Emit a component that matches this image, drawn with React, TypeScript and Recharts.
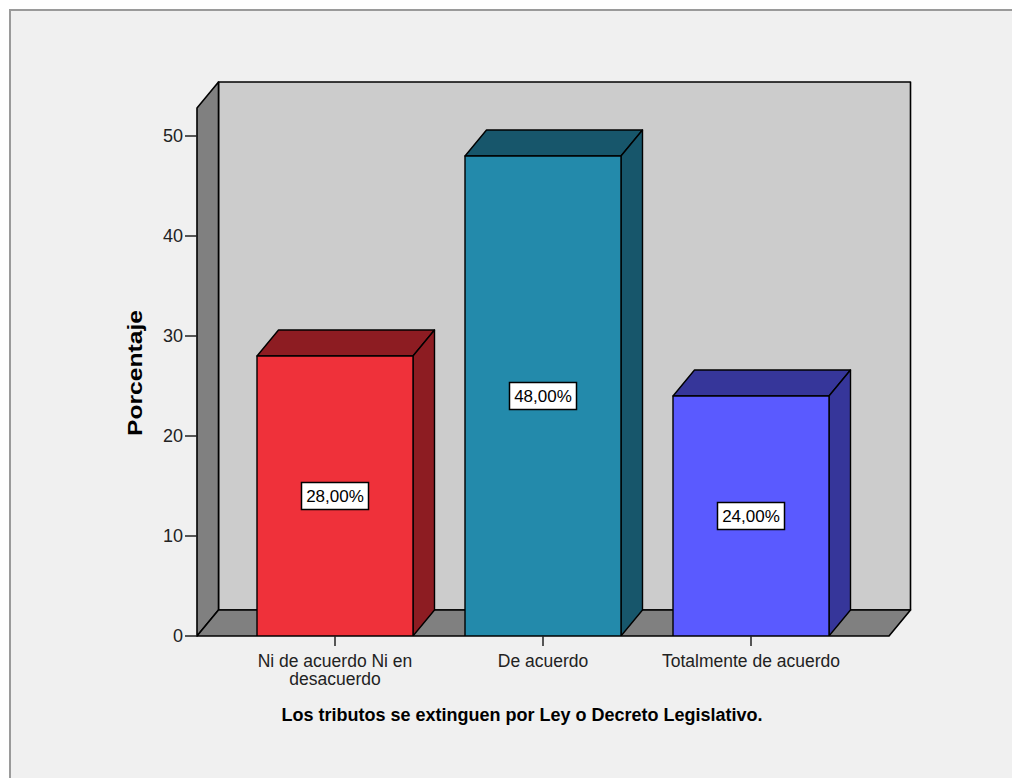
import React from 'react'
import { BarChart, Bar, XAxis, YAxis, ReferenceArea, LabelList } from 'recharts'

// categories, values and colours
const categories = ['Ni de acuerdo Ni en desacuerdo', 'De acuerdo', 'Totalmente de acuerdo']
const categoryLines = [['Ni de acuerdo Ni en', 'desacuerdo'], ['De acuerdo'], ['Totalmente de acuerdo']]
const percentages = [28, 48, 24]
const yTicks = [0, 10, 20, 30, 40, 50]
const frontColors = ['#ef313a', '#238aab', '#5a5aff']
const sideColors = ['#8d1c22', '#17566b', '#36369a']

const xTitle = 'Los tributos se extinguen por Ley o Decreto Legislativo.'
const yTitle = 'Porcentaje'

const data = categories.map((name, i) => ({ name, value: percentages[i] }))

const FONT = '"Liberation Sans", Arial, sans-serif'
const DX = 21.5 // 3D depth offset
const DY = 26
const XPAD = 34

function fmt(v: number) {
  return v.toFixed(2).replace('.', ',') + '%'
}

// back wall, left wall and floor of the 3D box
function Walls(props: any) {
  const { x, y, width, height } = props
  const x0 = x - XPAD
  const x1 = x + width + XPAD
  const yTop = y
  const yBot = y + height
  const s = { stroke: '#000', strokeWidth: 1.6, strokeLinejoin: 'round' as const }
  return (
    <g>
      <rect x={x0 + DX} y={yTop - DY} width={x1 - x0} height={yBot - yTop} fill="#cccccc" {...s} />
      <polygon
        points={`${x0},${yTop} ${x0 + DX},${yTop - DY} ${x0 + DX},${yBot - DY} ${x0},${yBot}`}
        fill="#808080"
        {...s}
      />
      <polygon
        points={`${x0},${yBot} ${x0 + DX},${yBot - DY} ${x1 + DX},${yBot - DY} ${x1},${yBot}`}
        fill="#808080"
        {...s}
      />
    </g>
  )
}

function Bar3D(props: any) {
  const { x, y, width, height, index } = props
  const s = { stroke: '#000', strokeWidth: 1.4, strokeLinejoin: 'round' as const }
  return (
    <g>
      <polygon
        points={`${x},${y} ${x + DX},${y - DY} ${x + width + DX},${y - DY} ${x + width},${y}`}
        fill={sideColors[index]}
        {...s}
      />
      <polygon
        points={`${x + width},${y} ${x + width + DX},${y - DY} ${x + width + DX},${y + height - DY} ${x + width},${y + height}`}
        fill={sideColors[index]}
        {...s}
      />
      <rect x={x} y={y} width={width} height={height} fill={frontColors[index]} {...s} />
    </g>
  )
}

function ValueBox(props: any) {
  const { x, y, width, height, value } = props
  const cx = x + width / 2
  const cy = y + height / 2
  return (
    <g>
      <rect x={cx - 33.5} y={cy - 13.5} width={67} height={27} fill="#fff" stroke="#000" strokeWidth={1.5} />
      <text x={cx} y={cy} dy="0.36em" textAnchor="middle" fontFamily={FONT} fontSize={17} fill="#000">
        {fmt(value)}
      </text>
    </g>
  )
}

function CategoryTick(props: any) {
  const { x, y, index } = props
  const lines = categoryLines[index] || []
  return (
    <g>
      {lines.map((l, i) => (
        <text key={i} x={x} y={y + 19 + i * 18} textAnchor="middle" fontFamily={FONT} fontSize={17.5} fill="#222">
          {l}
        </text>
      ))}
    </g>
  )
}

export default function App() {
  return (
    <div style={{ position: 'absolute', left: 0, top: 0, width: 1012, height: 778, background: '#fff', overflow: 'hidden' }}>
      <div
        style={{
          position: 'absolute',
          left: 9,
          top: 9,
          width: 1020,
          height: 800,
          background: '#f0f0f0',
          borderLeft: '2px solid #9a9a9a',
          borderTop: '2px solid #9a9a9a',
        }}
      />
      <div style={{ position: 'absolute', left: 0, top: 0 }}>
        <BarChart
          width={1012}
          height={778}
          data={data}
          margin={{ top: 108, right: 123, bottom: 0, left: 0 }}
        >
          <XAxis
            dataKey="name"
            height={142}
            padding={{ left: XPAD, right: XPAD }}
            axisLine={false}
            tickSize={10}
            tickLine={{ stroke: '#222', strokeWidth: 1.5 }}
            tick={<CategoryTick />}
            interval={0}
            label={{
              content: (p: any) => {
                const vb = p.viewBox
                return (
                  <text
                    x={vb.x + vb.width / 2 - 21}
                    y={vb.y + 85}
                    textAnchor="middle"
                    fontFamily={FONT}
                    fontWeight="bold"
                    fontSize={18}
                    fill="#000"
                  >
                    {xTitle}
                  </text>
                )
              },
            }}
          />
          <YAxis
            width={197}
            domain={[0, 52.8]}
            allowDataOverflow
            ticks={yTicks}
            axisLine={false}
            tickSize={12}
            tickLine={{ stroke: '#222', strokeWidth: 1.5 }}
            tick={{ fontSize: 18, fill: '#222', fontFamily: FONT }}
            label={{
              content: (p: any) => {
                const vb = p.viewBox
                const lx = vb.x + 142
                const ly = vb.y + vb.height / 2 + 1
                return (
                  <text
                    x={lx}
                    y={ly}
                    transform={`rotate(-90, ${lx}, ${ly})`}
                    textAnchor="middle"
                    fontFamily={FONT}
                    fontWeight="bold"
                    fontSize={20}
                    textLength={126}
                    lengthAdjust="spacingAndGlyphs"
                    fill="#000"
                  >
                    {yTitle}
                  </text>
                )
              },
            }}
          />
          <ReferenceArea y1={0} y2={52.8} shape={<Walls />} ifOverflow="visible" />
          <Bar dataKey="value" barSize={156} shape={<Bar3D />} isAnimationActive={false}>
            <LabelList dataKey="value" content={<ValueBox />} />
          </Bar>
        </BarChart>
      </div>
    </div>
  )
}
